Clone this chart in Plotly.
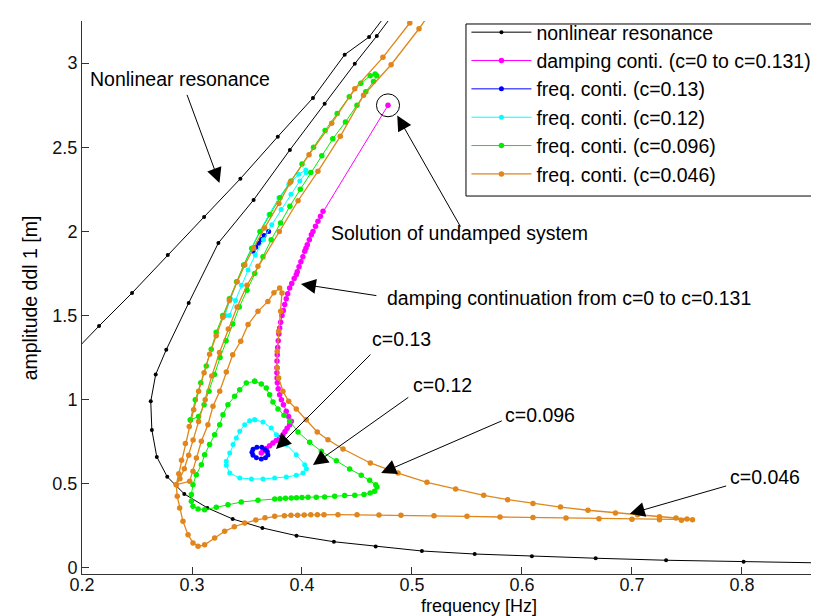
import plotly.graph_objects as go

# ---------------- data (frequency [Hz], amplitude [m]) ----------------
nonlin_f = [0.90, 0.8015, 0.731, 0.667, 0.609, 0.557, 0.509, 0.467, 0.429, 0.395,
            0.364, 0.337, 0.314, 0.293, 0.2775, 0.268, 0.2635, 0.2625, 0.267, 0.2766,
            0.297, 0.324, 0.356, 0.389, 0.4206, 0.448, 0.468, 0.4955, 0.4895, 0.461,
            0.4388, 0.410, 0.378, 0.344, 0.311, 0.278, 0.2455, 0.2155, 0.19]
nonlin_a = [0.027, 0.037, 0.046, 0.058, 0.070, 0.083, 0.101, 0.128, 0.156, 0.192,
            0.238, 0.291, 0.357, 0.440, 0.542, 0.66, 0.82, 0.99, 1.15, 1.297,
            1.575, 1.931, 2.187, 2.484, 2.759, 2.996, 3.161, 3.40, 3.40, 3.155,
            3.05, 2.793, 2.563, 2.313, 2.086, 1.86, 1.634, 1.438, 1.265]

damp_f = [0.4782, 0.4191, 0.4168, 0.4145, 0.4123, 0.4100, 0.4085, 0.4067, 0.4048, 0.4036,
          0.4025, 0.4008, 0.3990, 0.3973, 0.3957, 0.3948, 0.3929, 0.3907, 0.3888, 0.3870,
          0.3857, 0.3843, 0.3830, 0.3818, 0.3806, 0.3797, 0.3790, 0.3784, 0.3779, 0.3775,
          0.3773, 0.3772, 0.3772, 0.3773, 0.3776, 0.3784, 0.3797, 0.3813, 0.3831, 0.3857,
          0.3878, 0.3903, 0.3888, 0.3865, 0.3845, 0.3827, 0.3797, 0.3766, 0.3736, 0.3706,
          0.3675, 0.3645, 0.3630]
damp_a = [2.749, 2.12, 2.09, 2.06, 2.03, 2.00, 1.98, 1.95, 1.92, 1.90,
          1.882, 1.85, 1.82, 1.79, 1.76, 1.743, 1.72, 1.69, 1.664, 1.63,
          1.60, 1.565, 1.53, 1.50, 1.46, 1.426, 1.39, 1.35, 1.31, 1.267,
          1.23, 1.19, 1.16, 1.129, 1.10, 1.065, 1.03, 1.00, 0.97, 0.931,
          0.90, 0.872, 0.851, 0.83, 0.81, 0.792, 0.775, 0.758, 0.743, 0.727,
          0.71, 0.693, 0.683]

c013_f = [0.3635, 0.359, 0.3555, 0.3545, 0.3555, 0.3585, 0.363, 0.3668, 0.369, 0.3685, 0.3665,
          None, 0.3555, 0.358, 0.3605, 0.363, 0.3655, 0.3697]
c013_a = [0.718, 0.718, 0.705, 0.688, 0.670, 0.655, 0.648, 0.655, 0.672, 0.690, 0.703,
          None, 1.882, 1.905, 1.93, 1.952, 1.975, 2.0]

c012_f = [0.357, 0.3645, 0.372, 0.3767, 0.3857, 0.3948, 0.4025, 0.404, 0.4009, 0.3948,
          0.3857, 0.3752, 0.3645, 0.354, 0.3434, 0.3343, 0.3312, 0.3312, 0.3343, 0.3373,
          0.3403, 0.3434, 0.3479, 0.3524, 0.357,
          None,
          0.330, 0.335, 0.341, 0.347, 0.354, 0.3615, 0.370, 0.379, 0.388, 0.397, 0.4035,
          0.404, 0.398, 0.390, 0.381, 0.3725, 0.365, 0.3575, 0.351, 0.345, 0.3395, 0.334, 0.330]
c012_a = [0.881, 0.867, 0.832, 0.792, 0.733, 0.673, 0.614, 0.590, 0.564, 0.551,
          0.541, 0.535, 0.529, 0.529, 0.535, 0.564, 0.610, 0.634, 0.683, 0.733,
          0.772, 0.812, 0.851, 0.875, 0.881,
          None,
          1.50, 1.60, 1.70, 1.80, 1.90, 2.00, 2.10, 2.20, 2.28, 2.34, 2.365,
          2.35, 2.30, 2.22, 2.13, 2.04, 1.95, 1.86, 1.77, 1.68, 1.59, 1.50, 1.50]

c0096_f = [0.357, 0.363, 0.3675, 0.3706, 0.3736, 0.3782, 0.3836, 0.3888, 0.3964, 0.407,
           0.4176, 0.4312, 0.4433, 0.4539, 0.4615, 0.467, 0.4682, 0.466, 0.462, 0.4564,
           0.448, 0.4388, 0.4297, 0.4206, 0.413, 0.4055, 0.400, 0.395, 0.3903, 0.385,
           0.380, 0.3752, 0.360, 0.3448, 0.3327, 0.3221, 0.3115, 0.3055, 0.3009, 0.2994,
           0.2994, 0.3009, 0.3039, 0.3085, 0.3115, 0.316, 0.3206, 0.3252, 0.3282, 0.3327,
           0.3388, 0.3434, 0.3494, 0.357,
           None,
           0.2985, 0.303, 0.308, 0.313, 0.3175, 0.322, 0.328, 0.334, 0.3405, 0.347,
           0.3545, 0.362, 0.371, 0.380, 0.390, 0.400, 0.4105, 0.421, 0.432, 0.443,
           0.4535, 0.462, 0.4665, 0.468, 0.465, 0.458, 0.450, 0.4395, 0.428, 0.418,
           0.408, 0.3985, 0.389, 0.3805, 0.372, 0.3645, 0.357, 0.350, 0.343, 0.337,
           0.331, 0.3255, 0.3205, 0.3155, 0.311, 0.306, 0.2985]
c0096_a = [1.109, 1.093, 1.070, 1.030, 0.986, 0.945, 0.907, 0.872, 0.808, 0.747,
           0.693, 0.637, 0.588, 0.551, 0.521, 0.495, 0.481, 0.456, 0.446, 0.436,
           0.432, 0.430, 0.426, 0.422, 0.421, 0.420, 0.419, 0.418, 0.416, 0.414,
           0.412, 0.410, 0.402, 0.392, 0.376, 0.361, 0.346, 0.351, 0.367, 0.396,
           0.436, 0.495, 0.554, 0.614, 0.673, 0.733, 0.792, 0.851, 0.911, 0.970,
           1.020, 1.059, 1.099, 1.109,
           None,
           0.88, 1.00, 1.10, 1.20, 1.30, 1.40, 1.50, 1.60, 1.70, 1.80,
           1.90, 2.00, 2.10, 2.20, 2.30, 2.40, 2.50, 2.60, 2.70, 2.80,
           2.88, 2.925, 2.935, 2.925, 2.89, 2.83, 2.75, 2.65, 2.55, 2.45,
           2.35, 2.25, 2.15, 2.05, 1.95, 1.85, 1.75, 1.65, 1.55, 1.45,
           1.35, 1.25, 1.15, 1.05, 0.97, 0.90, 0.88]

c0046_f = [0.52, 0.5064, 0.481, 0.456, 0.4348, 0.4145, 0.3964, 0.3794, 0.360, 0.350,
           0.341, 0.333, 0.325, 0.318, 0.312, 0.306, 0.301, 0.297, 0.293, 0.289,
           0.2857, 0.2866, 0.2888, 0.2918, 0.2964, 0.3009, 0.3055, 0.3115, 0.3206, 0.3297,
           0.3385, 0.3479, 0.358, 0.3664, 0.3752, 0.384, 0.390, 0.396, 0.402, 0.408,
           0.414, 0.420, 0.4327, 0.450, 0.470, 0.490, 0.520, 0.550, 0.580, 0.610,
           0.640, 0.670, 0.700, 0.725, 0.745, 0.755, 0.750, 0.740, 0.725, 0.705,
           0.685, 0.660, 0.635, 0.610, 0.587, 0.5652, 0.5397, 0.5136, 0.4873, 0.4621,
           0.4373, 0.4236, 0.4139, 0.4039, 0.3948, 0.3879, 0.3827, 0.3788, 0.3775, 0.3775,
           0.3788, 0.3806, 0.3818, 0.3797,
           0.3745, 0.369, 0.360, 0.351, 0.3443, 0.337, 0.3312, 0.3252, 0.3191, 0.3145,
           0.3085, 0.304, 0.3009, 0.2979, 0.2857, 0.288, 0.2905, 0.294, 0.2975, 0.3015,
           0.306, 0.311, 0.316, 0.322, 0.328, 0.334, 0.341, 0.348, 0.356, 0.366,
           0.379, 0.3894, 0.4064, 0.427, 0.448, 0.4736, 0.498, 0.51]
c0046_a = [3.33, 3.204, 2.99, 2.809, 2.565, 2.357, 2.182, 2.00, 1.793, 1.68,
           1.55, 1.42, 1.28, 1.14, 1.00, 0.87, 0.76, 0.67, 0.59, 0.53,
           0.495, 0.426, 0.357, 0.277, 0.198, 0.149, 0.129, 0.138, 0.178, 0.218,
           0.245, 0.267, 0.285, 0.298, 0.307, 0.311, 0.313, 0.314, 0.315, 0.316,
           0.316, 0.317, 0.317, 0.316, 0.315, 0.313, 0.310, 0.307, 0.303, 0.300,
           0.297, 0.293, 0.289, 0.286, 0.284, 0.287, 0.291, 0.297, 0.305, 0.316,
           0.327, 0.343, 0.362, 0.383, 0.406, 0.432, 0.469, 0.509, 0.564, 0.624,
           0.707, 0.762, 0.808, 0.881, 0.945, 0.990, 1.050, 1.129, 1.188, 1.288,
           1.406, 1.525, 1.634, 1.664,
           1.635, 1.584, 1.525, 1.446, 1.347, 1.267, 1.165, 1.050, 0.961, 0.851,
           0.753, 0.654, 0.575, 0.515, 0.495, 0.56, 0.64, 0.74, 0.84, 0.94,
           1.05, 1.16, 1.27, 1.38, 1.49, 1.59, 1.70, 1.80, 1.90, 2.02,
           2.165, 2.292, 2.456, 2.642, 2.848, 3.034, 3.238, 3.33]

x_ticks = [0.2, 0.3, 0.4, 0.5, 0.6, 0.7, 0.8]
x_tick_labels = ["0.2", "0.3", "0.4", "0.5", "0.6", "0.7", "0.8"]
y_ticks = [0, 0.5, 1, 1.5, 2, 2.5, 3]
y_tick_labels = ["0", "0.5", "1", "1.5", "2", "2.5", "3"]

series = [
    ("nonlinear resonance", nonlin_f, nonlin_a, "#000000", 1.0, 4),
    ("damping conti. (c=0 to c=0.131)", damp_f, damp_a, "#FF00FF", 1.0, 5.5),
    ("freq. conti. (c=0.13)", c013_f, c013_a, "#0000FF", 1.0, 5),
    ("freq. conti. (c=0.12)", c012_f, c012_a, "#00FFFF", 1.0, 5),
    ("freq. conti. (c=0.096)", c0096_f, c0096_a, "#00EE00", 1.0, 5.5),
    ("freq. conti. (c=0.046)", c0046_f, c0046_a, "#E0861C", 1.3, 5.5),
]

FONT = "Arial, Liberation Sans, Helvetica, sans-serif"
TXT = 19.5
TICK = 18

fig = go.Figure()
for name, f, a, col, lw, ms in series:
    fig.add_trace(go.Scatter(x=f, y=a, name=name, mode="lines+markers",
                             line=dict(color=col, width=lw),
                             marker=dict(color=col, size=ms)))

# text labels
texts = [
    ("Nonlinear resonance", 0.205, 2.903),
    ("Solution of undamped system", 0.425, 1.988),
    ("damping continuation from c=0 to c=0.131", 0.4755, 1.604),
    ("c=0.13", 0.462, 1.36),
    ("c=0.12", 0.499, 1.087),
    ("c=0.096", 0.583, 0.909),
    ("c=0.046", 0.787, 0.54),
]
for t, x, y in texts:
    fig.add_annotation(x=x, y=y, text=t, showarrow=False, xanchor="left", yanchor="middle",
                       font=dict(family=FONT, size=TXT, color="#000"))

# arrows: (tip_f, tip_a, tail_f, tail_a)
arrows = [
    (0.325, 2.288, 0.295, 2.82),
    (0.4866, 2.688, 0.5448, 2.02),
    (0.399, 1.687, 0.469, 1.617),
    (0.3764, 0.707, 0.4636, 1.277),
    (0.410, 0.612, 0.498, 1.02),
    (0.472, 0.564, 0.583, 0.878),
    (0.698, 0.322, 0.787, 0.49),
]
for xt, yt, xs, ys in arrows:
    fig.add_annotation(x=xt, y=yt, ax=xs, ay=ys, xref="x", yref="y", axref="x", ayref="y",
                       text="", showarrow=True, arrowhead=2, arrowsize=3, arrowwidth=1,
                       arrowcolor="#000", standoff=0)

# circle around the undamped solution
fig.add_shape(type="circle", xref="x", yref="y", x0=0.4782 - 0.0105, x1=0.4782 + 0.0105,
              y0=2.749 - 0.068, y1=2.749 + 0.068, line=dict(color="#000", width=1))

# legend frame
fig.add_shape(type="rect", xref="paper", yref="paper", x0=0.5154, x1=0.996, y0=0.6835, y1=0.9946,
              line=dict(color="#000", width=1), fillcolor="white", layer="above")

# axis titles as annotations
fig.add_annotation(x=0.533, y=-0.057, xref="paper", yref="paper", text="frequency [Hz]",
                   showarrow=False, xanchor="center", yanchor="middle",
                   font=dict(family=FONT, size=18, color="#000"))
fig.add_annotation(x=-0.07, y=0.5, xref="paper", yref="paper", text="amplitude ddl 1 [m]",
                   showarrow=False, textangle=-90, xanchor="center", yanchor="middle",
                   font=dict(family=FONT, size=TXT, color="#000"))

axis_common = dict(showgrid=False, zeroline=False, showline=True, linecolor="#333",
                   linewidth=1, ticks="inside", ticklen=7, tickcolor="#333", tickwidth=1,
                   mirror=False, tickfont=dict(family=FONT, size=TICK, color="#111"))
fig.update_layout(
    width=819, height=616,
    margin=dict(l=74, r=0, t=13, b=50),
    paper_bgcolor="white", plot_bgcolor="white",
    font=dict(family=FONT, size=19, color="#000"),
    xaxis=dict(range=[0.2, 0.8773], tickvals=x_ticks, ticktext=x_tick_labels,
               ticklabelstandoff=-6, **axis_common),
    yaxis=dict(range=[-0.0357, 3.25], tickvals=y_ticks, ticktext=y_tick_labels, **axis_common),
    legend=dict(x=0.516, y=1.0145, xanchor="left", yanchor="top", bgcolor="rgba(0,0,0,0)",
                borderwidth=0, itemwidth=60,
                font=dict(family=FONT, size=TXT, color="#000")),
    showlegend=True,
)

fig.write_html("out.html")
